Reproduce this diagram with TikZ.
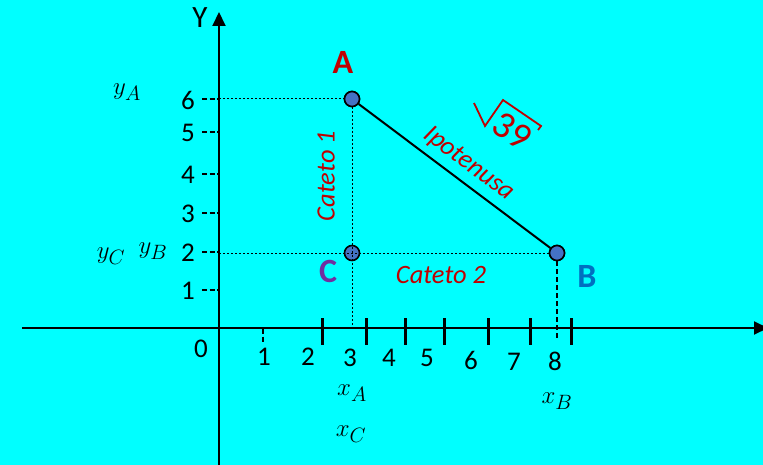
\documentclass[tikz,border=0pt]{standalone}
\usepackage{fontspec}
\setmainfont{Carlito}
\usetikzlibrary{arrows.meta}
\definecolor{bg}{RGB}{0,255,255}
\definecolor{myred}{RGB}{192,0,0}
\definecolor{mypurple}{RGB}{112,48,160}
\definecolor{myblue}{RGB}{0,112,192}
\definecolor{ptfill}{RGB}{68,114,196}
\tikzset{
  axis/.style={line width=2pt,-{Triangle[length=14pt,width=13pt]}},
  pt/.style={circle,draw=black,line width=1.6pt,fill=ptfill,minimum size=15pt,inner sep=0pt},
  num/.style={font=\fontsize{27}{27}\selectfont,inner sep=0pt},
  mlab/.style={font=\fontsize{28}{28}\selectfont,inner sep=0pt},
  ptlab/.style={font=\fontsize{34}{34}\selectfont\bfseries,inner sep=0pt},
  redit/.style={font=\fontsize{26.5}{26.5}\selectfont\itshape,text=myred,inner sep=0pt},
  thicktick/.style={line width=3pt},
  ytick/.style={line width=1.5pt,dash pattern=on 5pt off 2.5pt},
  fine/.style={line width=1pt,dash pattern=on 2pt off 2pt},
  dashv/.style={line width=1.2pt,dash pattern=on 5pt off 3pt},
  radical/.style={draw=myred,line width=1.8pt,line join=miter}
}
\begin{document}
\begin{tikzpicture}[x=1pt,y=-1pt]
\fill[bg] (0,0) rectangle (763,465);
\useasboundingbox (0,0) rectangle (763,465);
\clip (0,0) rectangle (763,465);
% axes
\coordinate (ybot) at (219,466);
\coordinate (ytop) at (219,12);
\coordinate (xl) at (22,328);
\coordinate (xr) at (768,328);
\draw[axis] (ybot) -- (ytop);
\draw[axis] (xl) -- (xr);
\node[font=\fontsize{31}{31}\selectfont,inner sep=0pt] (Ylab) at (200,18) {Y};
\node[font=\fontsize{31}{31}\selectfont,inner sep=0pt] (Xlab) at (773,362) {X};
\node[num] (zero) at (201,349) {0};
% y ticks
\foreach \v/\yy in {6/99,5/132,4/174,3/213,2/252,1/290}{
  \coordinate (yt\v a) at (202,\yy);
  \coordinate (yt\v b) at (218,\yy);
  \draw[ytick] (yt\v a) -- (yt\v b);
  \node[num] (ylab\v) at (188,\yy+1) {\v};
}
% x ticks
\coordinate (xt1a) at (263,329);
\coordinate (xt1b) at (263,343);
\draw[ytick] (xt1a) -- (xt1b);
\foreach \i/\xx in {a/322,b/366,c/405,d/444,e/488,f/530,g/571}{
  \coordinate (tk\i a) at (\xx,318);
  \coordinate (tk\i b) at (\xx,345);
  \draw[thicktick] (tk\i a) -- (tk\i b);
}
\foreach \v/\xx/\yy in {1/264/357,2/308/357,3/350/358,4/389/358,5/427/358,6/471/360,7/514/362,8/555/361}{
  \node[num] (xlab\v) at (\xx,\yy) {\v};
}
% points
\node[pt] (A) at (352,99) {};
\node[pt] (C) at (352,253) {};
\node[pt] (B) at (557,253) {};
% guide lines
\coordinate (yA) at (219,99);
\coordinate (yC) at (219,253);
\coordinate (xA) at (352,328);
\coordinate (xB) at (557,339);
\draw[fine] (yA) -- (A.center);
\draw[fine] (yC) -- (B.center);
\draw[fine] (A.center) -- (xA);
\draw[dashv] (B.south) -- (xB);
\draw[line width=2pt] (A) -- (B);
\node[pt] (A2) at (A) {};
\node[pt] (B2) at (B) {};
% labels
\node[ptlab,text=myred] (Alab) at (343,62) {A};
\node[ptlab,text=mypurple] (Clab) at (328,271) {C};
\node[ptlab,text=myblue] (Blab) at (587,276) {B};
\node[redit,rotate=90] (cat1) at (326,176) {Cateto 1};
\node[redit] (cat2) at (441,275) {Cateto 2};
\node[redit,rotate=-37] (ipo) at (469,164) {Ipotenusa};
% sqrt 39
\coordinate (r1) at (474,103);
\coordinate (r2) at (485,126);
\coordinate (r3) at (503,100);
\coordinate (r4) at (541,126);
\coordinate (r5) at (538,130);
\draw[radical] (r1) -- (r2) -- (r3) -- (r4) -- (r5);
\node[font=\fontsize{38}{38}\selectfont,text=myred,rotate=-33,inner sep=0pt] (n39) at (512,131) {39};
\node[mlab] (lyA) at (127,92) {$y_A$};
\node[mlab] (lyB) at (153,251) {$y_B$};
\node[mlab] (lyC) at (111,256) {$y_C$};
\node[mlab] (lxA) at (352,393) {$x_A$};
\node[mlab] (lxC) at (351,434) {$x_C$};
\node[mlab] (lxB) at (557,401) {$x_B$};
\end{tikzpicture}
\end{document}
